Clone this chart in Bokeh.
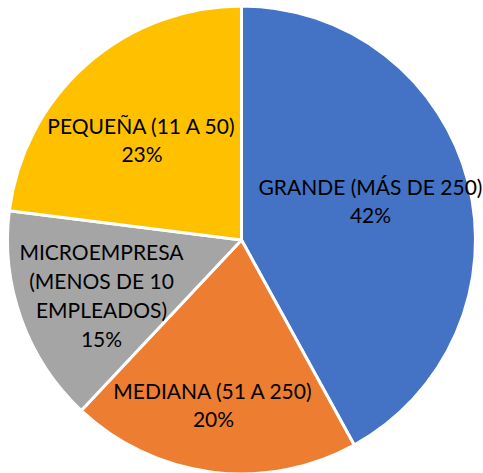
import math
from bokeh.plotting import figure
from bokeh.models import Range1d, ColumnDataSource
from bokeh.core.properties import value
from bokeh.embed import file_html
from bokeh.resources import INLINE

categories = ["GRANDE (MÁS DE 250)", "MEDIANA (51 A 250)",
              "MICROEMPRESA\n(MENOS DE 10\nEMPLEADOS)", "PEQUEÑA (11 A 50)"]
shares = [42, 20, 15, 23]
colors = ["#4472C4", "#ED7D31", "#A5A5A5", "#FFC000"]

# layout (reference pixel space, y downward -> negated)
cx, cy, r = 241, -239.5, 234
label_pos = [(370, 200), (213, 404), (101, 294.5), (141.5, 139)]

total = sum(shares)
starts, ends = [], []
a = math.pi / 2
for s in shares:
    starts.append(a)
    a -= 2 * math.pi * s / total
    ends.append(a)

labels = [f"{c}\n{round(100 * s / total)}%" for c, s in zip(categories, shares)]

src = ColumnDataSource(dict(start=starts, end=ends, color=colors))
lab = ColumnDataSource(dict(x=[p[0] for p in label_pos], y=[-p[1] for p in label_pos], text=labels))

p = figure(width=483, height=473, output_backend="svg", toolbar_location=None,
           x_range=Range1d(0, 483), y_range=Range1d(-473, 0),
           min_border=0)
p.axis.visible = False
p.grid.visible = False
p.outline_line_color = None
p.background_fill_color = "white"
p.border_fill_color = "white"

p.wedge(x=cx, y=cy, radius=r, start_angle="start", end_angle="end", direction="clock",
        fill_color="color", line_color="white", line_width=3, source=src)

p.text(x="x", y="y", text="text", source=lab, text_align="center", text_baseline="middle",
       text_font=value("Lato"), text_font_size="21px", text_color="#000000",
       text_line_height=1.15)

open("out.html", "w").write(file_html(p, INLINE))
